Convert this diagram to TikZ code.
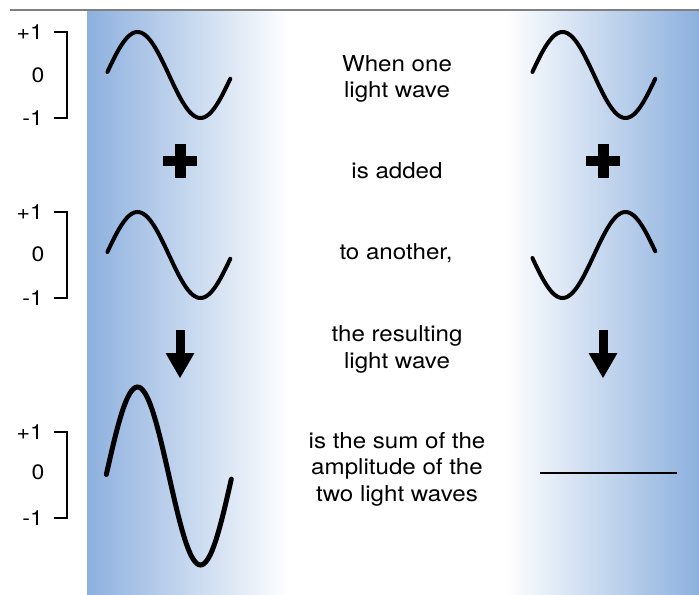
\documentclass[tikz,border=0pt]{standalone}
\usepackage{fontspec}
\setmainfont{TeX Gyre Heros}[FakeStretch=1.1]
\definecolor{bandblue}{RGB}{141,176,222}

\begin{document}
\begin{tikzpicture}[x=1bp,y=-1bp,
  wave/.style={line width=4bp,line cap=round},
  bigwave/.style={line width=5bp,line cap=round},
  tick/.style={line width=1.6bp},
  lbl/.style={font=\fontsize{21}{24}\selectfont,inner sep=0pt},
  txt/.style={font=\fontsize{22}{26.5}\selectfont,align=center,inner sep=0pt}]
  \useasboundingbox (0,0) rectangle (699,595);
  \fill[white] (0,0) rectangle (699,595);
  \shade[left color=bandblue,right color=white] (87,12) rectangle (290,594);
  \shade[left color=white,right color=bandblue] (505,12) rectangle (699,594);
  \draw[gray,line width=1.5bp] (10,10) -- (699,10);
  % scales
  \foreach \t/\m/\b [count=\i] in {32/75/118,212/254/298,432/472/518}{
    \draw[tick] (54,\t) -- (67,\t) -- (67,\b) -- (54,\b);
    \node[lbl,anchor=east] (p\i) at (43,\t) {+1};
    \node[lbl] (z\i) at (38,\m) {0};
    \node[lbl,anchor=east] (m\i) at (43,\b) {-1};
  }
  % waves
  \draw[wave] plot[domain=4:355,samples=70,smooth] ({106+0.35*\x},{75-43*sin(\x)});
  \draw[wave] plot[domain=4:355,samples=70,smooth] ({106+0.35*\x},{255-43*sin(\x)});
  \draw[bigwave] plot[domain=1:358,samples=70,smooth] ({106+0.35*\x},{476-89*sin(\x)});
  \draw[wave] plot[domain=4:355,samples=70,smooth] ({531+0.35*\x},{75-43*sin(\x)});
  \draw[wave] plot[domain=4:355,samples=70,smooth] ({531+0.35*\x},{255+43*sin(\x)});
  \draw[line width=2.5bp] (540,473) -- (677,473);
  % plus and arrows
  \foreach \x in {180,603}{
    \fill (\x-17,156) rectangle (\x+17,166);
    \fill (\x-5.5,144) rectangle (\x+5.5,178);
    \fill (\x-4.5,330) rectangle (\x+4.5,354);
    \fill (\x-14.5,353) -- (\x+14.5,353) -- (\x,378) -- cycle;
  }
  % text (base = last line)
  \node[txt,anchor=base] (when) at (397,98) {When one\\light wave};
  \node[txt,anchor=base] (added) at (397,179) {is added};
  \node[txt,anchor=base] (another) at (396,259) {to another,};
  \node[txt,anchor=base] (result) at (397,368) {the resulting\\light wave};
  \node[txt,anchor=base] (sum) at (397,501) {is the sum of the\\amplitude of the\\two light waves};
\end{tikzpicture}
\end{document}
